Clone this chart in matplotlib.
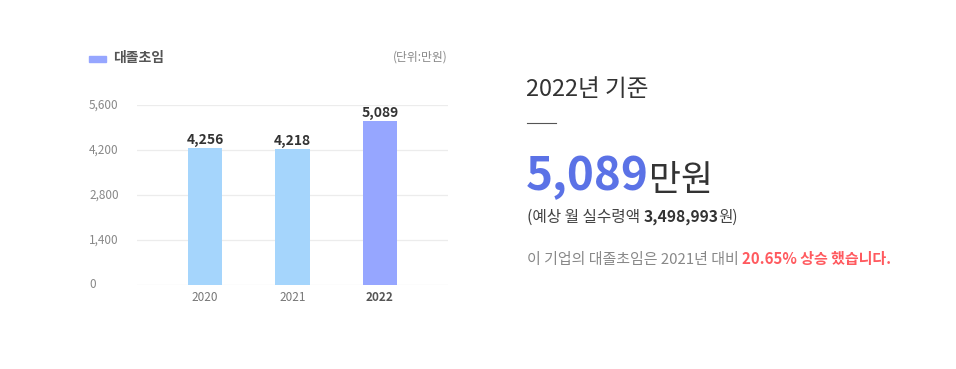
import matplotlib
matplotlib.use('Agg')
import matplotlib.pyplot as plt
import matplotlib.transforms as mtransforms

plt.rcParams['font.family'] = ['Noto Sans CJK KR', 'DejaVu Sans']

years = ['2020', '2021', '2022']
salaries = [4256, 4218, 5089]
yticks = [0, 1400, 2800, 4200, 5600]
bar_colors = ['#a5d5fc', '#a5d5fc', '#96a6ff']
monthly_pay = '3,498,993'
growth = '20.65%'

W, H = 956, 369
fig = plt.figure(figsize=(W / 100, H / 100), dpi=100)

def fx(px):
    return px / W

def fy(py):
    return 1 - py / H

ax = fig.add_axes([fx(137), fy(285), fx(448) - fx(137), fy(105) - fy(285)])
xs = range(len(years))
ax.bar(xs, salaries, width=0.39, color=bar_colors, zorder=2)
ax.set_xlim(-0.777, 2.777)
ax.set_ylim(0, 5600)
ax.set_yticks(yticks)
ax.yaxis.grid(True, color='#ececec', linewidth=0.9, zorder=0)
for s in ax.spines.values():
    s.set_visible(False)
ax.tick_params(length=0)
ax.set_yticklabels([])
ax.set_xticks(list(xs))
ax.set_xticklabels(years, fontsize=8.5, color='#777777')
ax.tick_params(axis='x', pad=4)
ax.get_xticklabels()[-1].set_fontweight('bold')
ax.get_xticklabels()[-1].set_color('#555555')

# y tick labels placed at the left
trans = mtransforms.blended_transform_factory(fig.transFigure, ax.transData)
for v in yticks:
    ax.text(fx(89), v, f'{v:,}', transform=trans, ha='left', va='center',
            fontsize=8.5, color='#888888')

for x, v in zip(xs, salaries):
    ax.annotate(f'{v:,}', (x, v), xytext=(0, 1), textcoords='offset points',
                ha='center', va='bottom', fontsize=10, fontweight='bold',
                color='#333333')

# legend
fig.patches.append(plt.Rectangle((fx(89), fy(62)), fx(106) - fx(89), fy(56) - fy(62),
                                 transform=fig.transFigure, color='#96a6ff'))
fig.text(fx(113), fy(58), '대졸초임', fontsize=10, fontweight='bold',
         color='#555555', va='center', ha='left')
fig.text(fx(448), fy(57), '(단위:만원)', fontsize=8.5, color='#888888',
         va='center', ha='right')

# right side summary
fig.text(fx(526), fy(90), '2022년 기준', fontsize=17, color='#333333',
         va='center', ha='left')
fig.add_artist(plt.Line2D([fx(527), fx(556)], [fy(123), fy(123)],
                          color='#555555', linewidth=0.8))

renderer = fig.canvas.get_renderer()

# pieces of mixed-style text: (text, gap after in px, style)
def run(parts, x, y):
    for txt, gap, kw in parts:
        t = fig.text(x, y, txt, ha='left', va='baseline', **kw)
        bb = t.get_window_extent(renderer)
        x = (bb.x1 + gap) / W
    return x

run([('5,089', 0, dict(fontsize=33, fontweight='bold', color='#5b72e6')),
     ('만원', 0, dict(fontsize=25, color='#333333'))], fx(526), fy(190))
run([('(예상 월 실수령액 ', 0, dict(fontsize=11.3, color='#444444')),
     (monthly_pay, 0, dict(fontsize=11.3, fontweight='bold', color='#333333')),
     ('원)', 0, dict(fontsize=11.3, color='#444444'))], fx(527), fy(222))
run([('이 기업의 대졸초임은 2021년 대비 ', 0, dict(fontsize=10.8, color='#888888')),
     (f'{growth} 상승 했습니다.', 0, dict(fontsize=10.8, fontweight='bold', color='#ff5a5f'))],
    fx(527), fy(264))

fig.savefig('out.png', dpi=100)
